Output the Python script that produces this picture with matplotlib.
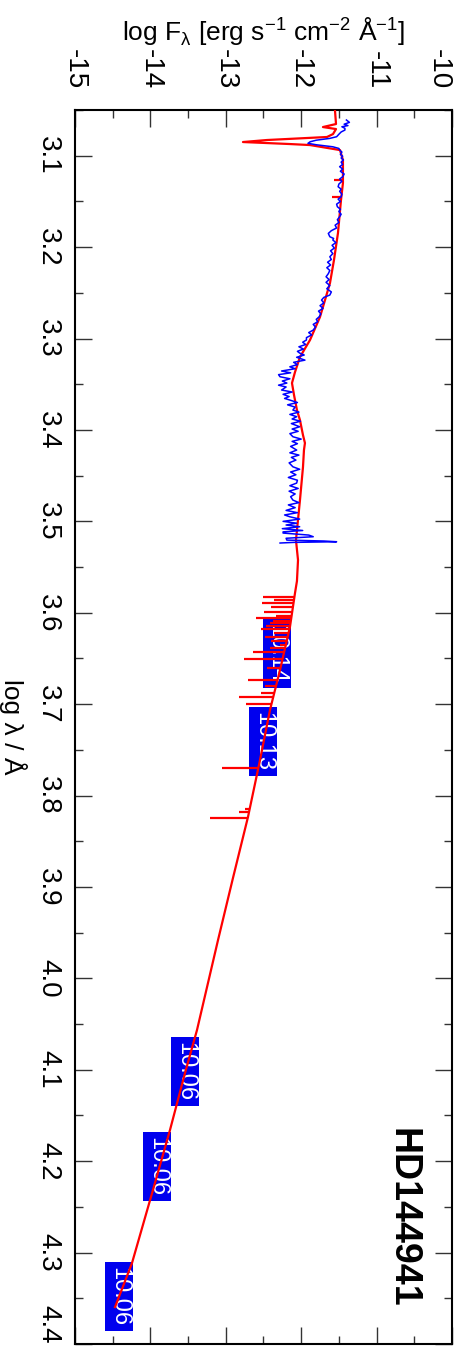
import numpy as np
import matplotlib.pyplot as plt
from matplotlib.patches import Rectangle
from matplotlib.ticker import MultipleLocator

plt.rcParams['font.family'] = ['Liberation Sans', 'DejaVu Sans']
plt.rcParams['mathtext.fontset'] = 'custom'
plt.rcParams['mathtext.rm'] = 'Liberation Sans'

# model flux (red), log lambda vs log F
model_loglam = [3.0500, 3.0653, 3.0686, 3.0708, 3.0763, 3.0795, 3.0828, 3.0850,
                3.0872, 3.0883, 3.0938, 3.1047, 3.1299, 3.1485, 3.1846, 3.2141,
                3.2393, 3.2579, 3.2765, 3.3016, 3.3202, 3.3367, 3.3487, 3.3618,
                3.3782, 3.3892, 3.4056, 3.4143, 3.4220, 3.4406, 3.4767, 3.5205,
                3.5423, 3.5653, 3.5785, 3.6156, 3.6627, 3.7065, 3.7611, 3.8236,
                3.8903, 3.9581, 4.0566, 4.1036, 4.1659, 4.2316, 4.3115, 4.3596]
model_logf = [-11.552, -11.538, -11.711, -11.538, -11.578, -11.658, -12.454, -12.772,
              -12.149, -11.883, -11.485, -11.446, -11.446, -11.472, -11.512, -11.565,
              -11.618, -11.684, -11.751, -11.883, -12.016, -12.082, -12.122, -12.095,
              -12.056, -12.016, -11.976, -11.950, -11.963, -11.976, -12.016, -12.069,
              -12.042, -12.056, -12.082, -12.149, -12.281, -12.414, -12.546, -12.706,
              -12.905, -13.103, -13.382, -13.541, -13.740, -13.966, -14.244, -14.469]

# absorption lines of the model: position, depth, continuum
line_loglam = [3.1266, 3.1449, 3.5828, 3.5860, 3.5894, 3.5940, 3.5992, 3.6030,
               3.6058, 3.6085, 3.6113, 3.6150, 3.6178, 3.6220, 3.6266, 3.6310,
               3.6353, 3.6386, 3.6430, 3.6507, 3.6600, 3.6736, 3.6800, 3.6879,
               3.6922, 3.6999, 3.7699, 3.8150, 3.8181, 3.8246]
line_logf = [-11.56, -11.59, -12.511, -12.36, -12.524, -12.40, -12.489, -12.33,
             -12.600, -12.38, -12.414, -12.47, -12.533, -12.36, -12.48, -12.40,
             -12.281, -12.414, -12.643, -12.759, -12.45, -12.702, -12.48, -12.533,
             -12.821, -12.732, -13.054, -12.74, -12.821, -13.210]
line_cont = [-11.45, -11.47, -12.089, -12.095, -12.102, -12.110, -12.122, -12.128,
             -12.135, -12.138, -12.142, -12.150, -12.155, -12.163, -12.170, -12.185,
             -12.200, -12.210, -12.228, -12.248, -12.275, -12.314, -12.330, -12.354,
             -12.367, -12.387, -12.566, -12.680, -12.686, -12.706]

# observed UV spectrum (blue)
obs_loglam = [3.0609, 3.0635, 3.0655, 3.0670, 3.0683, 3.0700, 3.0719, 3.0740, 3.0765, 3.0792,
              3.0810, 3.0830, 3.0847, 3.0864, 3.0880, 3.0902, 3.0920, 3.0938, 3.0960, 3.0985,
              3.1005, 3.1025, 3.1045, 3.1070, 3.1095, 3.1120, 3.1145, 3.1170, 3.1200, 3.1230,
              3.1255, 3.1280, 3.1310, 3.1339, 3.1365, 3.1390, 3.1420, 3.1449, 3.1475, 3.1500,
              3.1530, 3.1558, 3.1585, 3.1610, 3.1640, 3.1667, 3.1700, 3.1730, 3.1760, 3.1790,
              3.1820, 3.1850, 3.1886, 3.1905, 3.1922, 3.1950, 3.1980, 3.2010, 3.2040, 3.2070,
              3.2105, 3.2135, 3.2165, 3.2195, 3.2225, 3.2255, 3.2290, 3.2324, 3.2355, 3.2385,
              3.2420, 3.2455, 3.2490, 3.2524, 3.2550, 3.2579, 3.2610, 3.2640, 3.2670, 3.2700,
              3.2730, 3.2761, 3.2790, 3.2815, 3.2845, 3.2875, 3.2907, 3.2935, 3.2960, 3.2990,
              3.3016, 3.3040, 3.3065, 3.3090, 3.3115, 3.3140, 3.3159, 3.3180, 3.3205, 3.3236,
              3.3260, 3.3285, 3.3309, 3.3330, 3.3355, 3.3375, 3.3395, 3.3418, 3.3440, 3.3465,
              3.3487, 3.3510, 3.3530, 3.3563, 3.3585, 3.3610, 3.3635, 3.3655, 3.3673, 3.3700,
              3.3725, 3.3750, 3.3782, 3.3805, 3.3830, 3.3855, 3.3880, 3.3905, 3.3930, 3.3965,
              3.3990, 3.4015, 3.4040, 3.4074, 3.4100, 3.4125, 3.4150, 3.4180, 3.4220, 3.4250,
              3.4275, 3.4300, 3.4330, 3.4360, 3.4403, 3.4430, 3.4460, 3.4490, 3.4520, 3.4550,
              3.4581, 3.4610, 3.4640, 3.4670, 3.4700, 3.4730, 3.4767, 3.4795, 3.4820, 3.4850,
              3.4880, 3.4905, 3.4930, 3.4950, 3.4975, 3.5000, 3.5020, 3.5040, 3.5059, 3.5080,
              3.5100, 3.5115, 3.5128, 3.5150, 3.5168, 3.5185, 3.5205, 3.5215, 3.5223, 3.5230,
              3.5237]
obs_logf = [-11.40, -11.36, -11.43, -11.38, -11.46, -11.42, -11.42, -11.47, -11.50, -11.53,
            -11.62, -11.80, -11.88, -11.91, -11.80, -11.58, -11.50, -11.49, -11.46, -11.48,
            -11.45, -11.47, -11.44, -11.47, -11.45, -11.49, -11.45, -11.48, -11.43, -11.45,
            -11.49, -11.46, -11.50, -11.51, -11.47, -11.49, -11.46, -11.47, -11.51, -11.48,
            -11.53, -11.52, -11.48, -11.50, -11.47, -11.49, -11.52, -11.50, -11.55, -11.53,
            -11.60, -11.64, -11.62, -11.57, -11.58, -11.54, -11.59, -11.56, -11.61, -11.58,
            -11.62, -11.60, -11.65, -11.61, -11.66, -11.62, -11.64, -11.67, -11.63, -11.67,
            -11.62, -11.66, -11.60, -11.62, -11.70, -11.73, -11.70, -11.75, -11.71, -11.77,
            -11.74, -11.76, -11.80, -11.78, -11.84, -11.81, -11.84, -11.90, -11.86, -11.93,
            -11.93, -11.98, -11.94, -12.03, -11.97, -12.05, -12.02, -11.96, -12.06, -11.95,
            -12.10, -12.05, -12.15, -12.08, -12.26, -12.14, -12.30, -12.28, -12.15, -12.25,
            -12.19, -12.30, -12.20, -12.26, -12.12, -12.24, -12.16, -12.22, -12.15, -12.05,
            -12.18, -12.08, -12.11, -12.03, -12.15, -12.06, -12.12, -12.01, -12.13, -12.02,
            -12.12, -12.04, -12.15, -12.11, -12.00, -12.12, -12.05, -12.14, -12.06, -12.15,
            -12.03, -12.13, -12.07, -12.16, -12.11, -12.02, -12.14, -12.07, -12.17, -12.05,
            -12.06, -12.15, -12.04, -12.16, -12.08, -12.14, -12.11, -12.03, -12.17, -12.08,
            -12.20, -12.05, -12.22, -12.15, -12.02, -12.24, -12.06, -12.20, -12.02, -12.25,
            -11.98, -12.24, -12.24, -11.90, -11.84, -12.20, -12.19, -11.70, -11.53, -12.10,
            -12.28]

# photometry labels (magnitudes)
phot_loglam = [3.6446, 3.7409, 4.1020, 4.2059, 4.3481]
phot_logf = [-12.324, -12.507, -13.541, -13.912, -14.419]
phot_mag = ["10.14", "10.13", "10.06", "10.06", "10.06"]

star = "HD144941"

fig = plt.figure(figsize=(4.62, 13.56), dpi=100)
ax = fig.add_axes([0.1623, 0.00885, 0.8160, 0.9100])

box_w = 0.371
box_h = 0.0755
for lam, f, mag in zip(phot_loglam, phot_logf, phot_mag):
    ax.add_patch(Rectangle((f - box_w / 2, lam - box_h / 2), box_w, box_h,
                           facecolor='#0000ee', edgecolor='none', zorder=1))
    ax.text(f, lam, mag, color='white', fontsize=17, rotation=270,
            ha='center', va='center', zorder=2)

ax.plot(model_logf, model_loglam, color='red', lw=1.6, zorder=3)
ax.hlines(line_loglam, line_logf, line_cont, color='red', lw=1.6, zorder=3)
ax.plot(obs_logf, obs_loglam, color='blue', lw=1.1, zorder=4)

ax.set_xlim(-15, -10)
ax.set_ylim(4.4, 3.05)

ax.xaxis.tick_top()
ax.xaxis.set_label_position('top')
ax.xaxis.set_minor_locator(MultipleLocator(0.5))
ax.yaxis.set_minor_locator(MultipleLocator(0.05))
ax.tick_params(which='both', direction='in', top=True, bottom=True, left=True, right=True,
               width=1.0, color='#333333')
ax.tick_params(which='major', length=12)
ax.tick_params(which='minor', length=6)
ax.tick_params(axis='x', labelsize=20, pad=15)
ax.tick_params(axis='y', labelsize=20, pad=10)
ax.set_xticks(np.arange(-15, -9.5, 1))
ax.set_xticklabels(["-15", "-14", "-13", "-12", "-11", "-10"])
ax.set_yticks(np.arange(3.1, 4.45, 0.1))
ax.set_yticklabels(["%.1f" % v for v in np.arange(3.1, 4.45, 0.1)])
for t in ax.get_xticklabels():
    t.set_rotation(270)
    t.set_va('bottom')
    t.set_ha('center')
ax.get_xticklabels()[-1].set_ha('right')
for t in ax.get_yticklabels():
    t.set_rotation(270)
    t.set_va('center')
    t.set_ha('right')
ax.get_yticklabels()[-1].set_va('bottom')

for s in ax.spines.values():
    s.set_linewidth(1.5)

ax.set_xlabel(r"log F$_{\mathrm{\lambda}}$ [erg s$^{-1}$ cm$^{-2}$ Å$^{-1}$]",
              fontsize=19, labelpad=6)
fig.text(0.028, 0.4639, "log λ / Å", rotation=270, fontsize=19, ha='center', va='center')

ax.text(0.870, 0.102, star, transform=ax.transAxes, rotation=270, fontsize=27,
        fontweight='bold', ha='center', va='center')

fig.savefig('out.png', dpi=100)
